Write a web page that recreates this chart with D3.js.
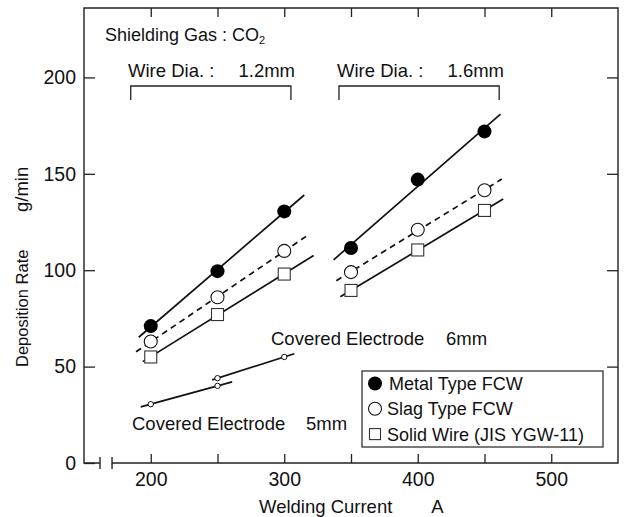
<!DOCTYPE html>
<html>
<head>
<meta charset="utf-8">
<script src="https://cdn.jsdelivr.net/npm/d3@7"></script>
<style>
  body { margin: 0; background: #fff; }
  svg text { font-family: "Liberation Sans", Arial, Helvetica, sans-serif; fill: #111; }
</style>
</head>
<body>
<div id="chart"></div>
<script>
// welding current (A) for each wire diameter group
var currents12 = [200, 250, 300];
var currents16 = [350, 400, 450];
// deposition rate g/min
var metal12 = [71, 99.5, 130.5];
var slag12 = [63, 86, 110];
var solid12 = [55, 77, 98];
var metal16 = [111.5, 147, 172];
var slag16 = [99, 121, 141.5];
var solid16 = [89.5, 110.5, 131];
// covered electrodes
var elec5Currents = [200, 250];
var elec5 = [30.5, 40];
var elec6Currents = [250, 300];
var elec6 = [44, 55];
// current range each trend line covers
var metal12Range = [191, 315];
var slag12Range = [189, 317];
var solid12Range = [194, 322];
var metal16Range = [337, 462];
var slag16Range = [339, 463];
var solid16Range = [342, 464];
var elec5Range = [192.5, 261];
var elec6Range = [246, 307.5];
// brackets for wire diameters
var bracket12 = [185, 305];
var bracket16 = [341, 461];

var xTicks = [200, 250, 300, 350, 400, 450, 500];
var xTickLabels = ['200', '', '300', '', '400', '', '500'];
var yTicks = [0, 50, 100, 150, 200];
var legendLabels = ['Metal Type FCW', 'Slag Type FCW', 'Solid Wire (JIS YGW-11)'];

var W = 624, H = 517;
var L = 84, R = 618, T = 8, B = 463;
var fs = 18.5;

var svg = d3.select('#chart').append('svg').attr('width', W).attr('height', H);

var x = d3.scaleLinear().domain([150, 550]).range([L, R]);
var y = d3.scaleLinear().domain([0, 236]).range([B, T]);

// axes, ticks pointing inward
svg.append('g').attr('transform', 'translate(0,' + B + ')')
	.call(d3.axisBottom(x).tickValues(xTicks).tickSizeInner(-9).tickSizeOuter(0).tickPadding(9)
		.tickFormat(function(d, i) { return xTickLabels[i]; }))
	.call(function(g) { g.select('.domain').remove(); });
svg.append('g').attr('transform', 'translate(0,' + T + ')')
	.call(d3.axisTop(x).tickValues(xTicks).tickSizeInner(-9).tickSizeOuter(0).tickFormat(''))
	.call(function(g) { g.select('.domain').remove(); });
svg.append('g').attr('transform', 'translate(' + L + ',0)')
	.call(d3.axisLeft(y).tickValues(yTicks).tickSizeInner(-11).tickSizeOuter(0).tickPadding(8))
	.call(function(g) { g.select('.domain').remove(); });
svg.append('g').attr('transform', 'translate(' + R + ',0)')
	.call(d3.axisRight(y).tickValues(yTicks.slice(1)).tickSizeInner(-11).tickSizeOuter(0).tickFormat(''))
	.call(function(g) { g.select('.domain').remove(); });

svg.selectAll('.tick line').attr('stroke', '#222').attr('stroke-width', 1.3);
svg.selectAll('.tick text').attr('font-size', 19.5).attr('fill', '#111')
	.style('font-family', '"Liberation Sans", Arial, sans-serif');

// frame with axis break on the bottom
var frame = svg.append('g').attr('stroke', '#222').attr('stroke-width', 1.4).attr('fill', 'none');
var b1 = x(162), b2 = x(171);
frame.append('path').attr('d', 'M' + b1 + ',' + B + 'H' + L + 'V' + T + 'H' + R + 'V' + B + 'H' + b2);
frame.append('line').attr('x1', b1).attr('x2', b1).attr('y1', B - 6).attr('y2', B + 6);
frame.append('line').attr('x1', b2).attr('x2', b2).attr('y1', B - 6).attr('y2', B + 6);

// least squares trend line over a range
function trend(xs, ys, range) {
	var mx = d3.mean(xs), my = d3.mean(ys);
	var num = d3.sum(xs, function(v, i) { return (v - mx) * (ys[i] - my); });
	var den = d3.sum(xs, function(v) { return (v - mx) * (v - mx); });
	var k = num / den;
	return range.map(function(c) { return [c, my + k * (c - mx)]; });
}
var line = d3.line().x(function(d) { return x(d[0]); }).y(function(d) { return y(d[1]); });

var series = [
	{xs: currents12, ys: metal12, range: metal12Range, type: 'metal'},
	{xs: currents12, ys: slag12, range: slag12Range, type: 'slag'},
	{xs: currents12, ys: solid12, range: solid12Range, type: 'solid'},
	{xs: currents16, ys: metal16, range: metal16Range, type: 'metal'},
	{xs: currents16, ys: slag16, range: slag16Range, type: 'slag'},
	{xs: currents16, ys: solid16, range: solid16Range, type: 'solid'},
	{xs: elec5Currents, ys: elec5, range: elec5Range, type: 'elec'},
	{xs: elec6Currents, ys: elec6, range: elec6Range, type: 'elec'}
];

series.forEach(function(s) {
	svg.append('path')
		.attr('d', line(trend(s.xs, s.ys, s.range)))
		.attr('fill', 'none')
		.attr('stroke', '#111')
		.attr('stroke-width', 1.7)
		.attr('stroke-dasharray', s.type == 'slag' ? '6,4.5' : null);
});

function marker(g, type, cx, cy) {
	if (type == 'metal') {
		g.append('circle').attr('cx', cx).attr('cy', cy).attr('r', 7).attr('fill', '#000');
	} else if (type == 'slag') {
		g.append('circle').attr('cx', cx).attr('cy', cy).attr('r', 6.5)
			.attr('fill', '#fff').attr('stroke', '#111').attr('stroke-width', 1.1);
	} else if (type == 'solid') {
		g.append('rect').attr('x', cx - 6).attr('y', cy - 6).attr('width', 12).attr('height', 12)
			.attr('fill', '#fff').attr('stroke', '#333').attr('stroke-width', 1.1);
	} else {
		g.append('circle').attr('cx', cx).attr('cy', cy).attr('r', 2.7)
			.attr('fill', '#fff').attr('stroke', '#111').attr('stroke-width', 1);
	}
}

var marks = svg.append('g');
series.forEach(function(s) {
	s.xs.forEach(function(c, i) { marker(marks, s.type, x(c), y(s.ys[i])); });
});

// annotations
function label(tx, ty, str, size) {
	return svg.append('text').attr('x', tx).attr('y', ty).attr('font-size', size || fs).text(str);
}
var gas = label(105, 41, 'Shielding Gas : CO', 18);
gas.append('tspan').attr('font-size', 11).attr('dy', 3).text('2');

label(128, 77, 'Wire Dia. :');
label(295, 77, '1.2mm').attr('text-anchor', 'end');
label(337, 77, 'Wire Dia. :');
label(504, 77, '1.6mm').attr('text-anchor', 'end');

[bracket12, bracket16].forEach(function(br) {
	svg.append('path')
		.attr('d', 'M' + x(br[0]) + ',' + 100 + 'V' + 86 + 'H' + x(br[1]) + 'V' + 100)
		.attr('fill', 'none').attr('stroke', '#222').attr('stroke-width', 1.3);
});

label(271, 345, 'Covered Electrode');
label(446, 345, '6mm');
label(132, 430, 'Covered Electrode');
label(306, 430, '5mm');

// axis titles
label(259, 513, 'Welding Current');
label(437.5, 513, 'A').attr('text-anchor', 'middle');
svg.append('text').attr('transform', 'translate(28,367) rotate(-90)')
	.attr('font-size', 16.5).text('Deposition Rate');
svg.append('text').attr('transform', 'translate(28,212) rotate(-90)')
	.attr('font-size', 18.5).text('g/min');

// legend
var lg = svg.append('g');
lg.append('rect').attr('x', 362).attr('y', 371).attr('width', 241).attr('height', 76)
	.attr('fill', '#fff').attr('stroke', '#333').attr('stroke-width', 1.3);
['metal', 'slag', 'solid'].forEach(function(t, i) {
	var ly = 383.5 + i * 25.3;
	if (t == 'solid') {
		lg.append('rect').attr('x', 369.5).attr('y', ly - 5.5).attr('width', 11).attr('height', 11)
			.attr('fill', '#fff').attr('stroke', '#333').attr('stroke-width', 1.1);
	} else {
		marker(lg, t, 375, ly);
	}
	lg.append('text').attr('x', t == 'metal' ? 389 : 387).attr('y', ly + 6.5)
		.attr('font-size', 18).text(legendLabels[i]);
});
</script>
</body>
</html>
